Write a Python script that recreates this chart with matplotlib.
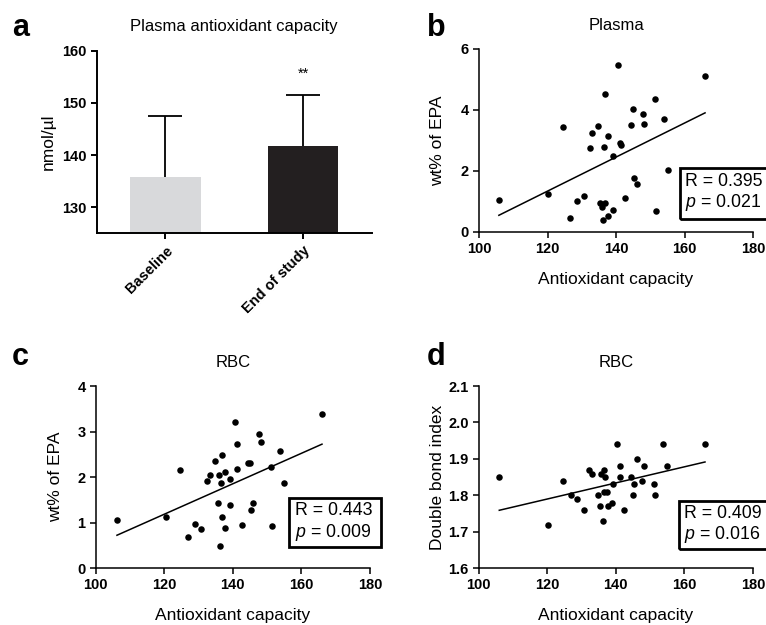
import matplotlib
matplotlib.use("Agg")
import matplotlib.pyplot as plt
from matplotlib.patches import Rectangle
import numpy as np

plt.rcParams["font.family"] = ["Liberation Sans", "DejaVu Sans"]
plt.rcParams["mathtext.fontset"] = "custom"
plt.rcParams["mathtext.it"] = "Liberation Sans:italic"
plt.rcParams["mathtext.rm"] = "Liberation Sans"

# ---- panel a: plasma antioxidant capacity (mean + SD) ----
groups = ["Baseline", "End of study"]
cap_mean = [135.8, 141.8]
cap_sd = [11.7, 9.75]
bar_colors = ["#d8d9db", "#231f20"]

# ---- panel b: plasma EPA vs antioxidant capacity ----
b_x = [105.8, 120.2, 124.6, 126.7, 128.7, 130.6, 132.3, 133.1, 134.8, 135.4,
       136.0, 136.2, 136.5, 136.8, 136.9, 137.6, 137.7, 139.1, 139.2, 140.5,
       141.3, 141.4, 142.6, 144.5, 145.0, 145.4, 146.2, 147.8, 148.2, 151.5,
       151.7, 154.0, 155.2, 166.0]
b_y = [1.03, 1.25, 3.43, 0.45, 1.02, 1.16, 2.75, 3.25, 3.48, 0.95,
       0.80, 0.38, 2.79, 0.95, 4.51, 3.13, 0.53, 2.50, 0.71, 5.49,
       2.92, 2.84, 1.12, 3.49, 4.03, 1.76, 1.56, 3.87, 3.53, 4.37,
       0.68, 3.71, 2.04, 5.11]

# ---- panel c: RBC EPA vs antioxidant capacity ----
c_x = [106.2, 120.5, 124.7, 126.9, 128.9, 130.6, 132.5, 133.2, 134.8, 135.6,
       136.1, 136.3, 136.6, 136.8, 136.9, 137.7, 137.7, 139.1, 139.1, 140.5,
       141.2, 141.3, 142.6, 144.3, 145.0, 145.4, 146.0, 147.7, 148.2, 151.25,
       151.5, 153.75, 155.0, 166.0]
c_y = [1.06, 1.13, 2.16, 0.69, 0.97, 0.87, 1.92, 2.05, 2.36, 1.43,
       2.05, 0.49, 1.87, 1.12, 2.49, 2.11, 0.88, 1.96, 1.39, 3.21,
       2.18, 2.73, 0.96, 2.30, 2.30, 1.27, 1.43, 2.94, 2.77, 2.22,
       0.92, 2.57, 1.87, 3.39]

# ---- panel d: RBC double bond index vs antioxidant capacity ----
d_x = [106.0, 120.3, 124.6, 126.8, 128.75, 130.6, 132.3, 133.1, 134.7, 135.5,
       135.8, 136.3, 136.5, 136.6, 136.8, 137.5, 137.6, 139.0, 139.1, 140.4,
       141.2, 141.3, 142.5, 144.3, 144.9, 145.3, 146.1, 147.7, 148.1, 151.25,
       151.5, 153.75, 155.0, 166.0]
d_y = [1.85, 1.72, 1.84, 1.80, 1.79, 1.76, 1.87, 1.86, 1.80, 1.77,
       1.86, 1.73, 1.87, 1.81, 1.85, 1.81, 1.77, 1.78, 1.83, 1.94,
       1.88, 1.85, 1.76, 1.85, 1.80, 1.83, 1.90, 1.84, 1.88, 1.83,
       1.80, 1.94, 1.88, 1.94]

stats = {"b": ("0.395", "0.021"), "c": ("0.443", "0.009"), "d": ("0.409", "0.016")}

W, H = 766, 625
TICK_FS = 10.5
LABEL_FS = 12.5
TITLE_FS = 12


def px_axes(fig, left, top, right, bottom):
    return fig.add_axes([left / W, 1 - bottom / H, (right - left) / W, (bottom - top) / H])


def style(ax, lw=1.2):
    for s in ("top", "right"):
        ax.spines[s].set_visible(False)
    for s in ("left", "bottom"):
        ax.spines[s].set_linewidth(lw)
    ax.tick_params(width=lw, length=4.3, labelsize=TICK_FS, pad=3)
    for lab in ax.get_xticklabels() + ax.get_yticklabels():
        lab.set_fontweight("bold")


def scatter_panel(ax, x, y, ylim, yticks, ylabel, title, key, box, ylab_x, fmt):
    ax.scatter(x, y, s=22, color="black", zorder=3, linewidths=0)
    slope, icpt = np.polyfit(x, y, 1)
    xs = np.array([min(x), max(x)])
    ax.plot(xs, slope * xs + icpt, color="black", lw=1.1)
    ax.set_xlim(100, 180)
    ax.set_ylim(*ylim)
    ax.set_xticks([100, 120, 140, 160, 180])
    ax.set_yticks(yticks)
    ax.set_yticklabels([fmt.format(t) for t in yticks])
    ax.set_ylabel(ylabel, fontsize=LABEL_FS)
    ax.yaxis.set_label_coords(ylab_x, 0.5)
    ax.set_xlabel("Antioxidant capacity", fontsize=LABEL_FS)
    ax.xaxis.set_label_coords(0.5, -0.218)
    ax.set_title(title, fontsize=TITLE_FS, pad=14)
    style(ax, lw=1.1)
    # stats box: left, bottom, top, width in axes fraction
    bl, bb, bt, bw = box
    ax.add_patch(Rectangle((bl, bb), bw, bt - bb, transform=ax.transAxes,
                           fill=False, ec="black", lw=2.0, clip_on=False, zorder=5))
    r, p = stats[key]
    ax.text(bl + 0.02, (bb + bt) / 2, f"R = {r}\n$p$ = {p}", transform=ax.transAxes,
            fontsize=12.8, va="center", ha="left", linespacing=1.15,
            clip_on=False, zorder=6)


fig = plt.figure(figsize=(W / 100, H / 100), dpi=100)

# ---- panel a ----
ax = px_axes(fig, 96.7, 50.7, 371.7, 233.3)
pos = np.arange(len(groups))
ax.bar(pos, cap_mean, width=0.51, color=bar_colors, zorder=2)
_, caps, _ = ax.errorbar(pos, cap_mean, yerr=[np.zeros(len(cap_sd)), cap_sd],
                         fmt="none", ecolor="black", elinewidth=1.3,
                         capsize=12.5, capthick=1.3, zorder=3)
caps[0].set_visible(False)
ax.text(pos[1], 155.6, "**", ha="center", va="center", fontsize=10.5)
ax.set_xlim(-0.5, 1.5)
ax.set_ylim(125, 160)
ax.set_yticks([130, 140, 150, 160])
ax.set_xticks(pos)
ax.set_xticklabels(groups, rotation=45, ha="right", rotation_mode="anchor")
ax.set_ylabel("nmol/µl", fontsize=LABEL_FS)
ax.yaxis.set_label_coords(-0.15, 0.5)
ax.set_title("Plasma antioxidant capacity", fontsize=TITLE_FS, pad=14.5)
style(ax, lw=1.4)

# ---- panel b ----
ax = px_axes(fig, 479, 49, 753, 231.7)
scatter_panel(ax, b_x, b_y, (0, 6), [0, 2, 4, 6], "wt% of EPA", "Plasma", "b",
              (0.732, 0.07, 0.35, 0.4), -0.125, "{:g}")

# ---- panel c ----
ax = px_axes(fig, 95.7, 386, 370, 568.3)
scatter_panel(ax, c_x, c_y, (0, 4), [0, 1, 2, 3, 4], "wt% of EPA", "RBC", "c",
              (0.706, 0.117, 0.386, 0.334), -0.12, "{:g}")

# ---- panel d ----
ax = px_axes(fig, 478.7, 386, 753, 568.3)
scatter_panel(ax, d_x, d_y, (1.6, 2.1), [1.6, 1.7, 1.8, 1.9, 2.0, 2.1],
              "Double bond index", "RBC", "d", (0.73, 0.105, 0.37, 0.4), -0.123, "{:.1f}")

for letter, x, y in [("a", 12, 35.5), ("b", 427, 35.5), ("c", 12, 365), ("d", 427, 365)]:
    fig.text(x / W, 1 - y / H, letter, fontsize=22, fontweight="bold",
             ha="left", va="baseline")

fig.savefig("out.png", dpi=100)
